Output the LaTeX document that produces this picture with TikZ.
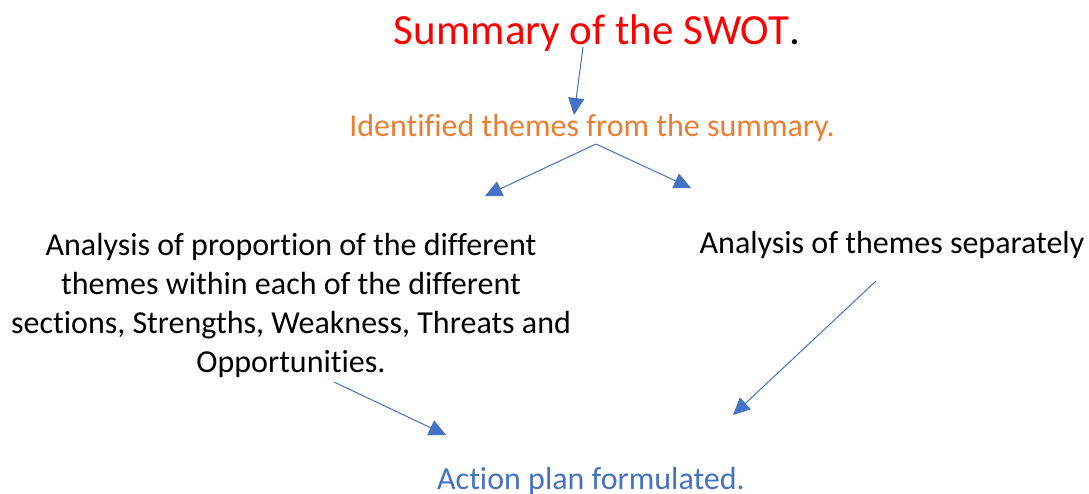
\documentclass[tikz,border=0pt]{standalone}
\usepackage{fontspec}
\setmainfont{Carlito}[Ligatures=NoCommon]
\usetikzlibrary{arrows.meta}
\definecolor{titlered}{HTML}{FF0000}
\definecolor{themeorange}{HTML}{ED7D31}
\definecolor{linkblue}{HTML}{4472C4}
\begin{document}
\begin{tikzpicture}[x=1pt,y=-1pt,
  every node/.style={inner sep=0pt,outer sep=0pt,anchor=base},
  body/.style={font=\fontsize{32}{39}\selectfont},
  link/.style={draw=linkblue,line width=1pt,-{Triangle[length=17pt,width=16pt]}}]
\useasboundingbox (0,0) rectangle (1089,494);
% title and theme line
\node[font=\fontsize{43}{50}\selectfont] (swot) at (597,45) {\textcolor{titlered}{Summary of the SWOT}.};
\node[body,text=themeorange] (themes) at (592,137) {Identified themes from the summary.};
% two analysis branches (base anchor = last line)
\node[body,align=center] (prop) at (291,372)
  {Analysis of proportion of the different\\themes within each of the different\\sections, Strengths, Weakness, Threats and\\Opportunities.};
\node[body] (sep) at (892,254) {Analysis of themes separately};
% outcome
\node[body,text=linkblue] (plan) at (591,489) {Action plan formulated.};
% connectors
\coordinate (s1) at (583,47);  \coordinate (t1) at (574,115);
\coordinate (s2) at (596,144); \coordinate (t2a) at (485,196); \coordinate (t2b) at (691,188);
\coordinate (s3) at (334,382); \coordinate (t3) at (446,435);
\coordinate (s4) at (876,281); \coordinate (t4) at (733,415);
\draw[link] (s1) -- (t1);
\draw[link] (s2) -- (t2a);
\draw[link] (s2) -- (t2b);
\draw[link] (s3) -- (t3);
\draw[link] (s4) -- (t4);
\end{tikzpicture}
\end{document}
